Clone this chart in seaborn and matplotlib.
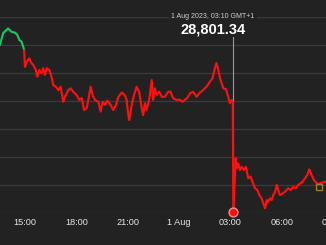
import matplotlib
matplotlib.use("Agg")
import matplotlib.pyplot as plt
import seaborn as sns
import pandas as pd
import numpy as np

# ---- data (minutes since 2023-07-31 00:00, GMT+1) ----
minutes = [812, 824, 841, 853, 865, 873, 880, 888, 894,
           897, 900, 906, 915, 923, 929, 938, 943, 950, 958, 964, 970, 976, 985, 993,
           999, 1008, 1017, 1025, 1034, 1040, 1052, 1060, 1069, 1081, 1090, 1099, 1107,
           1116, 1122, 1130, 1137, 1145, 1157, 1165, 1172, 1180, 1188, 1200, 1209, 1219,
           1227, 1239, 1250, 1256, 1262, 1265, 1274, 1282, 1291, 1300, 1309, 1314, 1320,
           1326, 1335, 1344, 1349, 1355, 1361, 1370, 1379, 1390, 1402, 1410, 1419, 1431,
           1443, 1452, 1460, 1468, 1478, 1489, 1501, 1510, 1524, 1536, 1548, 1557, 1565,
           1571, 1577, 1585, 1595, 1604, 1612, 1618, 1624, 1628, 1630,
           1638, 1643, 1647, 1653, 1659, 1667, 1674, 1682, 1690, 1697, 1706, 1714, 1721,
           1729, 1735, 1741, 1747, 1752, 1758, 1764, 1770, 1776, 1782, 1787, 1793, 1803,
           1811, 1822, 1831, 1840, 1849, 1857, 1866, 1873, 1881, 1889, 1896, 1904, 1912,
           1922, 1931, 1939, 1954]
prices = [29399, 29442, 29458, 29446, 29443, 29435, 29417, 29411, 29392,
          29381, 29321, 29339, 29351, 29334, 29328, 29310, 29286, 29310, 29298, 29316,
          29292, 29316, 29310, 29286, 29256, 29250, 29238, 29250, 29196, 29214, 29238,
          29244, 29232, 29220, 29203, 29209, 29167, 29173, 29203, 29250, 29220, 29203,
          29196, 29161, 29196, 29185, 29200, 29185, 29167, 29185, 29214, 29229, 29220,
          29203, 29149, 29131, 29185, 29220, 29250, 29232, 29173, 29149, 29191, 29167,
          29203, 29274, 29203, 29244, 29220, 29232, 29214, 29214, 29232, 29232, 29209,
          29203, 29203, 29196, 29203, 29209, 29226, 29232, 29214, 29226, 29238, 29250,
          29268, 29280, 29316, 29334, 29310, 29274, 29244, 29241, 29214, 29191, 29203,
          29196, 28801.34,
          28994, 28959, 28976, 28953, 28964, 28953, 28964, 28923, 28929, 28911, 28887,
          28881, 28863, 28851, 28834, 28816, 28845, 28839, 28851, 28845, 28863, 28875,
          28899, 28881, 28863, 28869, 28875, 28887, 28881, 28893, 28887, 28899, 28905,
          28911, 28923, 28935, 28955, 28935, 28917, 28905, 28903, 28907, 28911]
reference_price = 29390
cursor_minute = 1630
cursor_price = 28801.34
cursor_date_label = "1 Aug 2023, 03:10 GMT+1"
cursor_value_label = "28,801.34"
event_minute = 1930
event_price = 28893
tick_minutes = [900, 1080, 1260, 1440, 1620, 1800, 1980]
tick_labels = ["15:00", "18:00", "21:00", "1 Aug", "03:00", "06:00", "09:00"]

base = pd.Timestamp("2023-07-31 00:00")
def to_time(m):
    return base + pd.to_timedelta(np.asarray(m, dtype=float), unit="m")

times = to_time(minutes)
df = pd.DataFrame({"time": times, "price": prices})

BG = "#222222"
GRID = "#3a3a3a"
RED = "#ff1010"
GREEN = "#19c463"

sns.set_theme(style="dark")
plt.rcParams["font.family"] = ["Liberation Sans", "DejaVu Sans"]

fig = plt.figure(figsize=(3.26, 2.45), dpi=100, facecolor=BG)
ax = fig.add_axes([0.0, 32.3 / 245, 335 / 326, 196 / 245])
ax.set_facecolor(BG)

# split green (above reference) then red
k = int(np.argmax(np.array(prices) < reference_price))
sns.lineplot(data=df.iloc[:k + 1], x="time", y="price", ax=ax, color=GREEN,
             linewidth=1.55, clip_on=False, zorder=3)
sns.lineplot(data=df.iloc[k:], x="time", y="price", ax=ax, color=RED,
             linewidth=1.55, clip_on=False, zorder=3)

ax.set_xlim(to_time(812.5), to_time(1986))
ax.set_ylim(28800, 29500)
ax.set_yticks(np.arange(28800, 29501, 100))
ax.yaxis.grid(True, color=GRID, linewidth=1.0)
ax.xaxis.grid(False)
ax.set_yticklabels([])
ax.tick_params(axis="y", length=0)
ax.set_xticks(to_time(tick_minutes))
ax.set_xticklabels(tick_labels)
ax.tick_params(axis="x", length=0, pad=4, labelsize=6.6, colors="#e6e6e6")
for s in ax.spines.values():
    s.set_visible(False)
ax.set_xlabel("")
ax.set_ylabel("")

# crosshair
ct = to_time(cursor_minute)
ax.axvline(ct, color="#9a9a9a", linewidth=0.8, zorder=2)
ax.plot([ct], [cursor_price], marker="o", markersize=6.4, color=RED,
        markeredgecolor="#ff8a8a", markeredgewidth=1.0, clip_on=False, zorder=5)

# event marker
ax.plot([to_time(event_minute)], [event_price], marker="s", markersize=4.5,
        markerfacecolor="none", markeredgecolor="#a07c2e", markeredgewidth=1.0,
        linestyle="none", zorder=4)

# header texts
fig.text(213 / 326, 1 - 16 / 245, cursor_date_label, ha="center", va="center",
         fontsize=5.0, color="#d0d0d0",
         bbox=dict(facecolor=BG, edgecolor="none", pad=1.5), zorder=6)
fig.text(213 / 326, 1 - 29 / 245, cursor_value_label, ha="center", va="center",
         fontsize=10.5, fontweight="bold", color="#ffffff",
         bbox=dict(facecolor=BG, edgecolor="none", pad=1.0), zorder=6)

fig.savefig("out.png", dpi=100, facecolor=BG)
